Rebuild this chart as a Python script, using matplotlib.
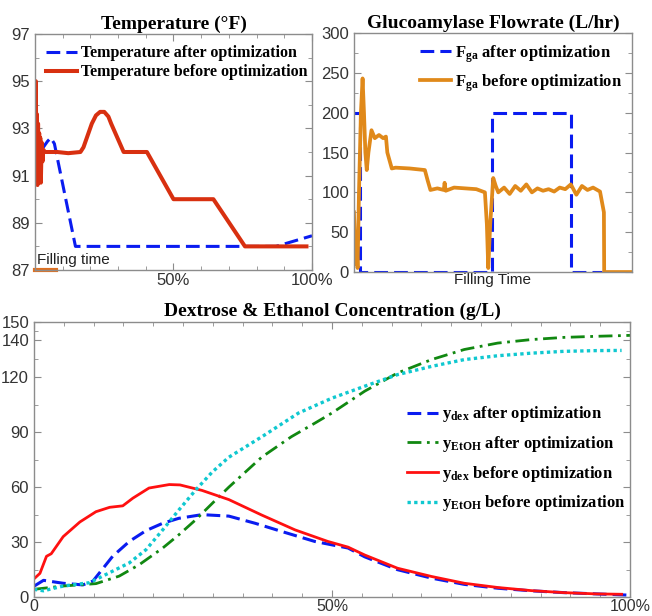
import matplotlib
matplotlib.use("Agg")
import matplotlib.pyplot as plt
from matplotlib.ticker import FixedLocator, NullLocator

plt.rcParams['mathtext.fontset'] = 'custom'
plt.rcParams['mathtext.rm'] = 'Liberation Serif'
plt.rcParams['mathtext.bf'] = 'Liberation Serif:bold'
plt.rcParams['mathtext.it'] = 'Liberation Serif:italic'
plt.rcParams['font.family'] = 'Liberation Sans'

# ---- temperature (% of batch time, deg F)
temp_after_x = [0, 1.5, 3.0, 4.5, 5.7, 7.0, 14.6, 87.0, 100.0]
temp_after_y = [93.15, 92.6, 92.2, 92.45, 92.6, 92.35, 88.0, 88.0, 88.45]
temp_before_x = [0, 0.3, 0.5, 0.7, 0.9, 1.1, 1.3, 1.5, 1.7, 1.9, 2.1, 2.4, 2.7, 3.0, 3.5,
                 8, 12, 16.4, 17.5, 19, 20.5, 22, 23.5, 25, 26.5, 27.5, 32, 40.4,
                 50, 64.4, 75.8, 85, 98]
temp_before_y = [92.0, 95.0, 90.9, 93.6, 90.6, 93.2, 91.0, 92.8, 91.2, 92.6, 90.7, 92.4, 91.6, 92.1, 92.0,
                 92.0, 91.95, 92.0, 92.2, 92.7, 93.2, 93.55, 93.7, 93.7, 93.5, 93.2, 92.0, 92.0,
                 90.0, 90.0, 88.0, 88.0, 88.0]
filling_end = 7.6

# ---- glucoamylase flowrate (L/hr)
fga_after_x = [0, 2.3, 2.3, 49.8, 49.8, 77.9, 77.9, 89.1]
fga_after_y = [200, 200, 0, 0, 200, 200, 0, 0]
fga_before_x = [0, 0.3, 0.6, 1.0, 1.3, 1.8, 2.5, 3.1, 3.6, 4.1, 4.6, 5.2, 6.3, 7.5, 9.0, 10.5,
                11.5, 12.0, 13.6, 15, 20, 25.5, 26.5, 27.5, 30, 32.3, 32.6, 33, 36, 40, 44,
                47.1, 47.8, 48.3, 49.0, 50.1, 51.0, 51.9, 54, 56, 58, 60, 62, 64, 66, 68,
                70, 72, 74, 76, 78, 80, 82, 84, 86, 88.5, 89.9, 90.0, 100]
fga_before_y = [75, 40, 10, 30, 5, 100, 200, 243, 200, 150, 128, 150, 178, 168, 172, 168,
                170, 150, 130, 131, 130, 128, 115, 103, 105, 103, 112, 102, 106, 105, 104,
                100, 60, 5, 60, 118, 108, 100, 106, 98, 108, 102, 110, 100, 105, 102,
                104, 101, 106, 104, 110, 97, 108, 103, 106, 101, 75, 0, 0]

# ---- dextrose & ethanol (g/L)
dex_after_x = [0, 1.6, 4.9, 8.2, 9.9, 13.2, 16, 18.8, 21.6, 24.3, 28.2, 32.7, 37.1, 41.6,
               47.1, 52.7, 55.5, 61, 66.7, 72.2, 77.8, 83.4, 88.9, 94.4, 100]
dex_after_y = [6, 9.2, 7.6, 6.7, 8.8, 22.3, 30.4, 36.3, 40.3, 43, 45, 44.2, 40.3, 35.8,
               30.4, 26.8, 22, 15, 10.4, 7, 4.9, 3.5, 2.5, 1.8, 1.1]
etoh_after_x = [0, 4.9, 10.4, 14.3, 17.7, 21.6, 24.3, 27.1, 29.9, 32.7, 38.2, 43.2, 47.2,
                50, 55.5, 61, 66.7, 72.2, 77.8, 83.4, 88.9, 94.4, 100]
etoh_after_y = [4.3, 6.1, 7.4, 11.5, 17.8, 26.8, 34, 42.1, 51.1, 60, 76.3, 87.5, 95,
                100.4, 112.3, 122.2, 129.5, 135, 138.5, 140.4, 141.6, 142.2, 142.7]
dex_before_x = [0, 1.0, 2.1, 2.9, 4.9, 7.7, 10.4, 12.7, 14.9, 16.6, 19.3, 22.7, 24.5,
                28.2, 32.7, 38.2, 43.8, 49.3, 52.7, 55.5, 61, 66.7, 72.2, 77.8, 83.4,
                88.9, 94.4, 98.6]
dex_before_y = [10, 13, 22.3, 23.7, 33, 41, 46.6, 49, 49.8, 54, 59.5, 61.4, 61.2,
                58.2, 53.2, 44.8, 36.7, 30.4, 27.3, 23, 15.8, 11.3, 7.6, 5.3, 3.6,
                2.5, 1.8, 1.6]
etoh_before_x = [0, 1.6, 4.9, 9.3, 13.2, 16, 18.8, 21.6, 24.3, 27.1, 29.9, 32.7, 38.5,
                 44.4, 50, 55.5, 61, 66.7, 72.2, 77.8, 83.4, 88.9, 94.4, 98.6]
etoh_before_y = [4.3, 3.5, 6.1, 7.9, 14.2, 18.7, 25.9, 36.7, 47.5, 58.3, 68.2, 76.3, 88,
                 100.4, 108.5, 115, 121.3, 125.8, 129.5, 131.6, 133, 134, 134.4, 134.5]

title_font = dict(family='Liberation Serif', weight='bold', size=14)
legend_font = dict(family='Liberation Serif', weight='bold', size=11.5)
legend_font_sub = dict(family='Liberation Serif', weight='bold', size=12)
spine_gray = '#8c8c8c'
blue_dash = (0, (4.5, 2))


def style_axes(ax):
    for s in ax.spines.values():
        s.set_color(spine_gray)
        s.set_linewidth(1.0)
    ax.tick_params(which='both', direction='in', top=True, right=True,
                   colors=spine_gray, labelcolor='#333333', labelsize=12)
    ax.tick_params(which='major', length=5)
    ax.tick_params(which='minor', length=3)


fig = plt.figure(figsize=(6.52, 6.16), dpi=100)
ax1 = fig.add_axes([0.0537, 0.5617, 0.4248, 0.3831])
ax2 = fig.add_axes([0.5429, 0.5584, 0.4264, 0.3880])
ax3 = fig.add_axes([0.0521, 0.0305, 0.9141, 0.4468])

# temperature
ax1.plot(temp_after_x, temp_after_y, color='#0a1cf0', lw=2.2, ls=blue_dash,
         label='Temperature after optimization')
ax1.plot(temp_before_x, temp_before_y, color='#d83010', lw=2.9,
         label='Temperature before optimization')
ax1.plot([0, filling_end], [87, 87], color='#e07020', lw=3, clip_on=False)
ax1.text(0.8, 87.25, 'Filling time', fontsize=11, color='#222222')
ax1.set_xlim(0, 100)
ax1.set_ylim(87, 97)
ax1.set_yticks([87, 89, 91, 93, 95, 97])
ax1.yaxis.set_minor_locator(FixedLocator([88, 90, 92, 94, 96]))
ax1.set_xticks([50, 100])
ax1.set_xticklabels(['50%', '100%'])
ax1.xaxis.set_minor_locator(FixedLocator([10, 20, 30, 40, 60, 70, 80, 90]))
ax1.tick_params(axis='x', pad=2)
ax1.set_title('Temperature (\u00b0F)', pad=4, **title_font)
style_axes(ax1)
ax1.legend(loc='upper left', frameon=False, prop=legend_font, handlelength=1.9,
           handletextpad=0.25, borderaxespad=0.3, labelspacing=0.2)

# glucoamylase
ax2.plot(fga_after_x, fga_after_y, color='#0a1cf0', lw=2.2, ls=blue_dash,
         label=r'$\mathbf{F}_{\mathbf{ga}}$ after optimization')
ax2.plot(fga_before_x, fga_before_y, color='#e0891a', lw=2.7,
         label=r'$\mathbf{F}_{\mathbf{ga}}$ before optimization')
ax2.set_xlim(0, 100)
ax2.set_ylim(0, 300)
ax2.set_yticks([0, 50, 100, 150, 200, 250, 300])
ax2.yaxis.set_minor_locator(FixedLocator([25, 75, 125, 175, 225, 275]))
ax2.set_xticks([])
ax2.xaxis.set_minor_locator(NullLocator())
ax2.set_xlabel('Filling Time', fontsize=11, color='#222222', labelpad=1)
ax2.set_title('Glucoamylase Flowrate (L/hr)', pad=4, **title_font)
style_axes(ax2)
ax2.legend(loc='upper right', frameon=False, prop=legend_font_sub, handlelength=1.9,
           handletextpad=0.2, borderaxespad=0.2, labelspacing=0.45)

# dextrose & ethanol
ax3.plot(dex_after_x, dex_after_y, color='#0a1cf0', lw=2.2, ls=blue_dash,
         label=r'$\mathbf{y}_{\mathbf{dex}}$ after optimization')
ax3.plot(etoh_after_x, etoh_after_y, color='#118811', lw=2.0, ls=(0, (5, 2, 1, 2)),
         label=r'$\mathbf{y}_{\mathbf{EtOH}}$ after optimization')
ax3.plot(dex_before_x, dex_before_y, color='#ff1010', lw=2.0,
         label=r'$\mathbf{y}_{\mathbf{dex}}$ before optimization')
ax3.plot(etoh_before_x, etoh_before_y, color='#10c8d0', lw=2.4, ls=(0, (1, 1)),
         label=r'$\mathbf{y}_{\mathbf{EtOH}}$ before optimization')
ax3.set_xlim(0, 100)
ax3.set_ylim(0, 150)
ax3.set_yticks([0, 30, 60, 90, 120, 140, 150])
ax3.yaxis.set_minor_locator(FixedLocator([15, 45, 75, 105, 130, 145]))
ax3.set_xticks([0, 50, 100])
ax3.set_xticklabels(['0', '50%', '100%'])
ax3.xaxis.set_minor_locator(FixedLocator([i * 5 for i in range(1, 20) if i != 10]))
ax3.set_title('Dextrose & Ethanol Concentration (g/L)', pad=4, **title_font)
style_axes(ax3)
ax3.tick_params(axis='x', pad=1, labelsize=11.5)
ax3.legend(loc='upper left', bbox_to_anchor=(0.60, 0.755), frameon=False, prop=legend_font_sub,
           handlelength=1.9, handletextpad=0.2, labelspacing=0.58)

fig.savefig('out.png', dpi=100)
